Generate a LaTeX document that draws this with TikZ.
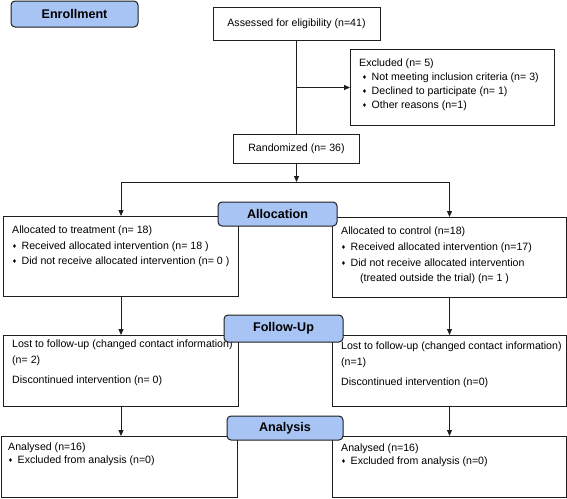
\documentclass[tikz,border=0pt]{standalone}
\usepackage{fontspec}
\setmainfont{Liberation Sans}
\newfontfamily\dejavu{DejaVu Sans}
\usetikzlibrary{arrows.meta}
\definecolor{lblue}{RGB}{168,196,244}
\definecolor{ink}{RGB}{30,30,30}
\newcommand{\itm}{\makebox[9.5pt][l]{\raisebox{0.9pt}{\dejavu\fontsize{5.5}{6}\selectfont ♦}}}
\tikzset{
  lbl/.style={draw=ink, fill=lblue, rounded corners=4pt, line width=1pt,
    font=\fontsize{12.6}{14}\selectfont\bfseries, inner sep=0pt},
  box/.style={draw=ink, line width=1pt, inner sep=0pt},
  txt/.style={anchor=north west, align=left, inner sep=0pt,
    font=\fontsize{10.6}{#1}\selectfont},
  ctxt/.style={inner sep=0pt, font=\fontsize{10.6}{12}\selectfont},
  arr/.style={-{Triangle[length=6pt,width=5pt]}, line width=1pt, draw=ink},
  ln/.style={line width=1pt, draw=ink}
}
\begin{document}
\begin{tikzpicture}[x=1pt,y=-1pt]
\useasboundingbox (0,0) rectangle (567,498);
% boxes
\node[box, minimum width=167pt, minimum height=33pt] (assess) at (296.5,23.5) {};
\node[ctxt] (assesst) at (assess.center) {Assessed for eligibility (n=41)};
\node[box, anchor=north west, minimum width=204pt, minimum height=76pt] (excl) at (350,49) {};
\node[txt=14] (exclt) at (359,58.9) {Excluded (n= 5)\\
\hspace*{3pt}\itm Not meeting inclusion criteria (n= 3)\\
\hspace*{3pt}\itm Declined to participate (n= 1)\\
\hspace*{3pt}\itm Other reasons (n=1)};
\node[box, minimum width=126pt, minimum height=29pt] (rand) at (296.5,148.5) {};
\node[ctxt] (randt) at (rand.center) {Randomized (n= 36)};

\node[box, anchor=north west, minimum width=235pt, minimum height=80pt] (alloct) at (3,216) {};
\node[txt=15.5] (alloctt) at (12,225.9) {Allocated to treatment (n= 18)\\
\itm Received allocated intervention (n= 18 )\\
\itm Did not receive allocated intervention (n= 0 )};
\node[box, anchor=north west, minimum width=234pt, minimum height=80pt] (allocc) at (332,217) {};
\node[txt=15.7] (allocct) at (341,226.9) {Allocated to control (n=18)\\
\itm Received allocated intervention (n=17)\\
\itm Did not receive allocated intervention\\
\hspace*{19pt}(treated outside the trial) (n= 1 )};

\node[box, anchor=north west, minimum width=235pt, minimum height=71pt] (lostt) at (3,335) {};
\node[txt=16] (losttt) at (12,339.9) {Lost to follow-up (changed contact information)\\
(n= 2)\\[4pt]
Discontinued intervention (n= 0)};
\node[box, anchor=north west, minimum width=234pt, minimum height=71pt] (lostc) at (332,335) {};
\node[txt=16] (lostct) at (341,341.9) {Lost to follow-up (changed contact information)\\
(n=1)\\[4pt]
Discontinued intervention (n=0)};

\node[box, anchor=north west, minimum width=236.5pt, minimum height=61pt] (anat) at (0.5,436) {};
\node[txt=13] (anatt) at (8,442.5) {Analysed (n=16)\\
\itm Excluded from analysis (n=0)};
\node[box, anchor=north west, minimum width=234pt, minimum height=61pt] (anac) at (332,436) {};
\node[txt=13] (anact) at (341,444) {Analysed (n=16)\\
\itm Excluded from analysis (n=0)};

% connectors
\draw[ln] (assess.south) -- (rand.north);
\draw[arr] (assess.south |- excl.west) -- (excl.west);
\coordinate (split) at (296.5,182);
\draw[arr] (rand.south) -- (split);
\draw[ln] (alloct.north |- split) -- (allocc.north |- split);
\draw[arr] (alloct.north |- split) -- (alloct.north);
\draw[arr] (allocc.north |- split) -- (allocc.north);
\draw[arr] (alloct.south) -- (lostt.north);
\draw[arr] (allocc.south) -- (lostc.north);
\draw[arr] (lostt.south) -- (lostt.south |- anat.north);
\draw[arr] (lostc.south) -- (anac.north);

% stage labels
\node[lbl, minimum width=127pt, minimum height=26pt] (enr) at (74.5,14) {Enrollment};
\node[lbl, minimum width=119pt, minimum height=24pt] (alc) at (277.5,214) {Allocation};
\node[lbl, minimum width=119pt, minimum height=27pt] (fu) at (283.5,328.5) {Follow-Up};
\node[lbl, minimum width=116pt, minimum height=24pt] (an) at (285,428) {Analysis};
\end{tikzpicture}
\end{document}
